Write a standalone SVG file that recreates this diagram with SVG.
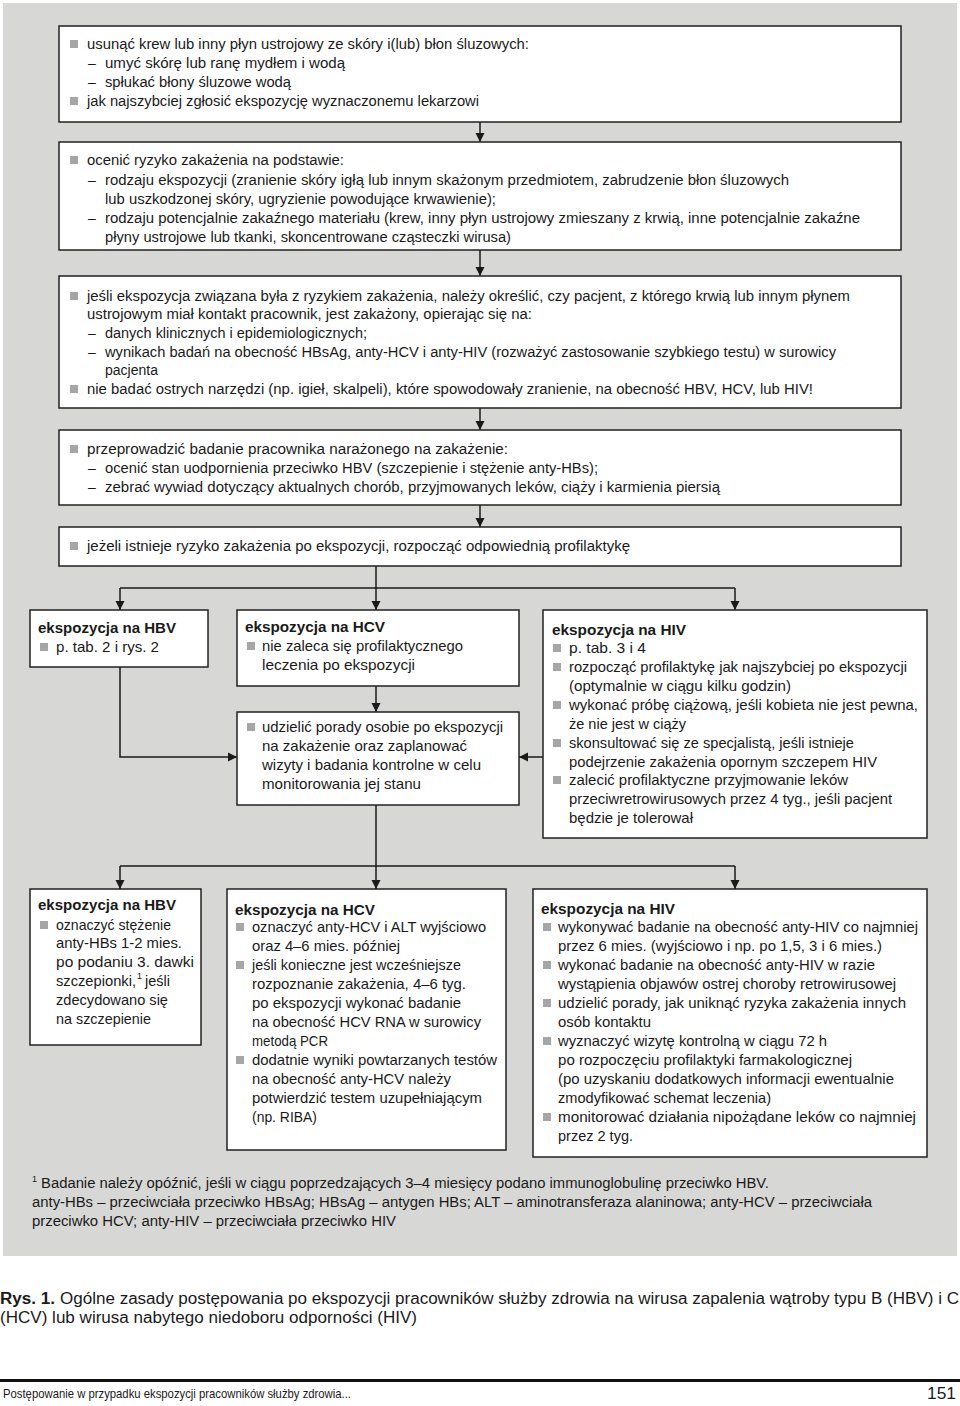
<svg xmlns="http://www.w3.org/2000/svg" width="960" height="1406" viewBox="0 0 960 1406">
<style>
.bg{fill:#d7d7d5}
.box{fill:#fff;stroke:#222;stroke-width:1.5}
.t{font-family:"Liberation Sans","Open Sans",Arial,sans-serif;font-size:14px;fill:#1a1a1a}
.l{font-family:"Liberation Sans","Open Sans",Arial,sans-serif;font-size:15px;fill:#1a1a1a}
.bd{font-weight:bold}
.bul{fill:#a6a6a6}
.c{fill:none;stroke:#1a1a1a;stroke-width:1.5}
</style>
<defs>
<marker id="a" viewBox="0 0 10 10" refX="10" refY="5" markerWidth="9" markerHeight="10" orient="auto" markerUnits="userSpaceOnUse">
<path d="M0,0 L10,5 L0,10 z" fill="#1a1a1a"/>
</marker>
</defs>
<rect class="bg" x="3" y="3" width="954" height="1253"/>

<g id="connectors">
<line class="c" x1="480" y1="122" x2="480" y2="142" marker-end="url(#a)"/>
<line class="c" x1="480" y1="250" x2="480" y2="276" marker-end="url(#a)"/>
<line class="c" x1="480" y1="408" x2="480" y2="430" marker-end="url(#a)"/>
<line class="c" x1="480" y1="505" x2="480" y2="527" marker-end="url(#a)"/>
<polyline class="c" points="376,566 376,588"/>
<polyline class="c" points="120,588 735,588"/>
<line class="c" x1="120" y1="588" x2="120" y2="610" marker-end="url(#a)"/>
<line class="c" x1="376" y1="588" x2="376" y2="610" marker-end="url(#a)"/>
<line class="c" x1="735" y1="588" x2="735" y2="610" marker-end="url(#a)"/>
<line class="c" x1="376" y1="686" x2="376" y2="712" marker-end="url(#a)"/>
<polyline class="c" points="120,667 120,757 237,757" marker-end="url(#a)"/>
<line class="c" x1="543" y1="757" x2="519" y2="757" marker-end="url(#a)"/>
<polyline class="c" points="376,805 376,866"/>
<polyline class="c" points="120,866 735,866"/>
<line class="c" x1="120" y1="866" x2="120" y2="889" marker-end="url(#a)"/>
<line class="c" x1="376" y1="866" x2="376" y2="889" marker-end="url(#a)"/>
<line class="c" x1="735" y1="866" x2="735" y2="889" marker-end="url(#a)"/>
</g>

<g id="box1">
<rect class="box" x="59" y="26" width="842" height="96"/>
<rect class="bul" x="70" y="40" width="8" height="8"/>
<text class="t" x="87" y="49" textLength="442" lengthAdjust="spacingAndGlyphs">usunąć krew lub inny płyn ustrojowy ze skóry i(lub) błon śluzowych:</text>
<text class="t" x="88" y="68">–</text>
<text class="t" x="105" y="68" textLength="240" lengthAdjust="spacingAndGlyphs">umyć skórę lub ranę mydłem i wodą</text>
<text class="t" x="88" y="87">–</text>
<text class="t" x="105" y="87" textLength="186" lengthAdjust="spacingAndGlyphs">spłukać błony śluzowe wodą</text>
<rect class="bul" x="70" y="97" width="8" height="8"/>
<text class="t" x="87" y="106" textLength="392" lengthAdjust="spacingAndGlyphs">jak najszybciej zgłosić ekspozycję wyznaczonemu lekarzowi</text>
</g>

<g id="box2">
<rect class="box" x="59" y="142" width="842" height="108"/>
<rect class="bul" x="70" y="156" width="8" height="8"/>
<text class="t" x="87" y="165" textLength="257" lengthAdjust="spacingAndGlyphs">ocenić ryzyko zakażenia na podstawie:</text>
<text class="t" x="88" y="185">–</text>
<text class="t" x="105" y="185" textLength="684" lengthAdjust="spacingAndGlyphs">rodzaju ekspozycji (zranienie skóry igłą lub innym skażonym przedmiotem, zabrudzenie błon śluzowych</text>
<text class="t" x="105" y="204" textLength="391" lengthAdjust="spacingAndGlyphs">lub uszkodzonej skóry, ugryzienie powodujące krwawienie);</text>
<text class="t" x="88" y="223">–</text>
<text class="t" x="105" y="223" textLength="755" lengthAdjust="spacingAndGlyphs">rodzaju potencjalnie zakaźnego materiału (krew, inny płyn ustrojowy zmieszany z krwią, inne potencjalnie zakaźne</text>
<text class="t" x="105" y="242" textLength="406" lengthAdjust="spacingAndGlyphs">płyny ustrojowe lub tkanki, skoncentrowane cząsteczki wirusa)</text>
</g>

<g id="box3">
<rect class="box" x="59" y="276" width="842" height="132"/>
<rect class="bul" x="70" y="292" width="8" height="8"/>
<text class="t" x="87" y="301" textLength="763" lengthAdjust="spacingAndGlyphs">jeśli ekspozycja związana była z ryzykiem zakażenia, należy określić, czy pacjent, z którego krwią lub innym płynem</text>
<text class="t" x="87" y="319" textLength="445" lengthAdjust="spacingAndGlyphs">ustrojowym miał kontakt pracownik, jest zakażony, opierając się na:</text>
<text class="t" x="88" y="338">–</text>
<text class="t" x="105" y="338" textLength="262" lengthAdjust="spacingAndGlyphs">danych klinicznych i epidemiologicznych;</text>
<text class="t" x="88" y="357">–</text>
<text class="t" x="105" y="357" textLength="731" lengthAdjust="spacingAndGlyphs">wynikach badań na obecność HBsAg, anty-HCV i anty-HIV (rozważyć zastosowanie szybkiego testu) w surowicy</text>
<text class="t" x="105" y="375" textLength="53" lengthAdjust="spacingAndGlyphs">pacjenta</text>
<rect class="bul" x="70" y="385" width="8" height="8"/>
<text class="t" x="87" y="394" textLength="726" lengthAdjust="spacingAndGlyphs">nie badać ostrych narzędzi (np. igieł, skalpeli), które spowodowały zranienie, na obecność HBV, HCV, lub HIV!</text>
</g>

<g id="box4">
<rect class="box" x="59" y="430" width="842" height="75"/>
<rect class="bul" x="70" y="445" width="8" height="8"/>
<text class="t" x="87" y="454" textLength="421" lengthAdjust="spacingAndGlyphs">przeprowadzić badanie pracownika narażonego na zakażenie:</text>
<text class="t" x="88" y="473">–</text>
<text class="t" x="105" y="473" textLength="493" lengthAdjust="spacingAndGlyphs">ocenić stan uodpornienia przeciwko HBV (szczepienie i stężenie anty-HBs);</text>
<text class="t" x="88" y="492">–</text>
<text class="t" x="105" y="492" textLength="615" lengthAdjust="spacingAndGlyphs">zebrać wywiad dotyczący aktualnych chorób, przyjmowanych leków, ciąży i karmienia piersią</text>
</g>

<g id="box5">
<rect class="box" x="59" y="527" width="842" height="39"/>
<rect class="bul" x="70" y="542" width="8" height="8"/>
<text class="t" x="87" y="551" textLength="543" lengthAdjust="spacingAndGlyphs">jeżeli istnieje ryzyko zakażenia po ekspozycji, rozpocząć odpowiednią profilaktykę</text>
</g>

<g id="hbv1">
<rect class="box" x="30" y="610" width="178" height="57"/>
<text class="l bd" x="38" y="633" textLength="138" lengthAdjust="spacingAndGlyphs">ekspozycja na HBV</text>
<rect class="bul" x="40" y="643" width="8" height="8"/>
<text class="l" x="56" y="652" textLength="103" lengthAdjust="spacingAndGlyphs">p. tab. 2 i rys. 2</text>
</g>

<g id="hcv1">
<rect class="box" x="237" y="610" width="282" height="76"/>
<text class="l bd" x="245" y="632" textLength="140" lengthAdjust="spacingAndGlyphs">ekspozycja na HCV</text>
<rect class="bul" x="247" y="642" width="8" height="8"/>
<text class="l" x="262" y="651" textLength="201" lengthAdjust="spacingAndGlyphs">nie zaleca się profilaktycznego</text>
<text class="l" x="262" y="670" textLength="153" lengthAdjust="spacingAndGlyphs">leczenia po ekspozycji</text>
</g>

<g id="advice">
<rect class="box" x="237" y="712" width="282" height="93"/>
<rect class="bul" x="247" y="723" width="8" height="8"/>
<text class="l" x="262" y="732" textLength="241" lengthAdjust="spacingAndGlyphs">udzielić porady osobie po ekspozycji</text>
<text class="l" x="262" y="751" textLength="205" lengthAdjust="spacingAndGlyphs">na zakażenie oraz zaplanować</text>
<text class="l" x="262" y="770" textLength="219" lengthAdjust="spacingAndGlyphs">wizyty i badania kontrolne w celu</text>
<text class="l" x="262" y="789" textLength="159" lengthAdjust="spacingAndGlyphs">monitorowania jej stanu</text>
</g>

<g id="hiv1">
<rect class="box" x="543" y="610" width="384" height="228"/>
<text class="l bd" x="552" y="635" textLength="134" lengthAdjust="spacingAndGlyphs">ekspozycja na HIV</text>
<rect class="bul" x="553" y="644" width="8" height="8"/>
<text class="l" x="569" y="653" textLength="77" lengthAdjust="spacingAndGlyphs">p. tab. 3 i 4</text>
<rect class="bul" x="553" y="663" width="8" height="8"/>
<text class="l" x="569" y="672" textLength="338" lengthAdjust="spacingAndGlyphs">rozpocząć profilaktykę jak najszybciej po ekspozycji</text>
<text class="l" x="569" y="691" textLength="222" lengthAdjust="spacingAndGlyphs">(optymalnie w ciągu kilku godzin)</text>
<rect class="bul" x="553" y="701" width="8" height="8"/>
<text class="l" x="569" y="710" textLength="349" lengthAdjust="spacingAndGlyphs">wykonać próbę ciążową, jeśli kobieta nie jest pewna,</text>
<text class="l" x="569" y="729" textLength="117" lengthAdjust="spacingAndGlyphs">że nie jest w ciąży</text>
<rect class="bul" x="553" y="739" width="8" height="8"/>
<text class="l" x="569" y="748" textLength="285" lengthAdjust="spacingAndGlyphs">skonsultować się ze specjalistą, jeśli istnieje</text>
<text class="l" x="569" y="767" textLength="308" lengthAdjust="spacingAndGlyphs">podejrzenie zakażenia opornym szczepem HIV</text>
<rect class="bul" x="553" y="776" width="8" height="8"/>
<text class="l" x="569" y="785" textLength="279" lengthAdjust="spacingAndGlyphs">zalecić profilaktyczne przyjmowanie leków</text>
<text class="l" x="569" y="804" textLength="323" lengthAdjust="spacingAndGlyphs">przeciwretrowirusowych przez 4 tyg., jeśli pacjent</text>
<text class="l" x="569" y="823" textLength="124" lengthAdjust="spacingAndGlyphs">będzie je tolerował</text>
</g>

<g id="hbv2">
<rect class="box" x="30" y="889" width="171" height="156"/>
<text class="l bd" x="38" y="910" textLength="138" lengthAdjust="spacingAndGlyphs">ekspozycja na HBV</text>
<rect class="bul" x="40" y="921" width="8" height="8"/>
<text class="l" x="56" y="930" textLength="115" lengthAdjust="spacingAndGlyphs">oznaczyć stężenie</text>
<text class="l" x="56" y="948" textLength="126" lengthAdjust="spacingAndGlyphs">anty-HBs 1-2 mies.</text>
<text class="l" x="56" y="967" textLength="138" lengthAdjust="spacingAndGlyphs">po podaniu 3. dawki</text>
<text class="l" x="56" y="986" textLength="80" lengthAdjust="spacingAndGlyphs">szczepionki,</text>
<text class="l" x="137" y="979" style="font-size:9px">1</text>
<text class="l" x="145" y="986" textLength="25" lengthAdjust="spacingAndGlyphs">jeśli</text>
<text class="l" x="56" y="1005" textLength="112" lengthAdjust="spacingAndGlyphs">zdecydowano się</text>
<text class="l" x="56" y="1024" textLength="95" lengthAdjust="spacingAndGlyphs">na szczepienie</text>
</g>

<g id="hcv2">
<rect class="box" x="227" y="889" width="279" height="261"/>
<text class="l bd" x="235" y="915" textLength="140" lengthAdjust="spacingAndGlyphs">ekspozycja na HCV</text>
<rect class="bul" x="236" y="923" width="8" height="8"/>
<text class="l" x="252" y="932" textLength="234" lengthAdjust="spacingAndGlyphs">oznaczyć anty-HCV i ALT wyjściowo</text>
<text class="l" x="252" y="951" textLength="148" lengthAdjust="spacingAndGlyphs">oraz 4–6 mies. później</text>
<rect class="bul" x="236" y="961" width="8" height="8"/>
<text class="l" x="252" y="970" textLength="209" lengthAdjust="spacingAndGlyphs">jeśli konieczne jest wcześniejsze</text>
<text class="l" x="252" y="989" textLength="214" lengthAdjust="spacingAndGlyphs">rozpoznanie zakażenia, 4–6 tyg.</text>
<text class="l" x="252" y="1008" textLength="209" lengthAdjust="spacingAndGlyphs">po ekspozycji wykonać badanie</text>
<text class="l" x="252" y="1027" textLength="229" lengthAdjust="spacingAndGlyphs">na obecność HCV RNA w surowicy</text>
<text class="l" x="252" y="1046" textLength="76" lengthAdjust="spacingAndGlyphs">metodą PCR</text>
<rect class="bul" x="236" y="1056" width="8" height="8"/>
<text class="l" x="252" y="1065" textLength="245" lengthAdjust="spacingAndGlyphs">dodatnie wyniki powtarzanych testów</text>
<text class="l" x="252" y="1084" textLength="199" lengthAdjust="spacingAndGlyphs">na obecność anty-HCV należy</text>
<text class="l" x="252" y="1103" textLength="230" lengthAdjust="spacingAndGlyphs">potwierdzić testem uzupełniającym</text>
<text class="l" x="252" y="1122" textLength="65" lengthAdjust="spacingAndGlyphs">(np. RIBA)</text>
</g>

<g id="hiv2">
<rect class="box" x="533" y="889" width="394" height="268"/>
<text class="l bd" x="541" y="914" textLength="134" lengthAdjust="spacingAndGlyphs">ekspozycja na HIV</text>
<rect class="bul" x="543" y="923" width="8" height="8"/>
<text class="l" x="558" y="932" textLength="360" lengthAdjust="spacingAndGlyphs">wykonywać badanie na obecność anty-HIV co najmniej</text>
<text class="l" x="558" y="951" textLength="324" lengthAdjust="spacingAndGlyphs">przez 6 mies. (wyjściowo i np. po 1,5, 3 i 6 mies.)</text>
<rect class="bul" x="543" y="961" width="8" height="8"/>
<text class="l" x="558" y="970" textLength="317" lengthAdjust="spacingAndGlyphs">wykonać badanie na obecność anty-HIV w razie</text>
<text class="l" x="558" y="989" textLength="338" lengthAdjust="spacingAndGlyphs">wystąpienia objawów ostrej choroby retrowirusowej</text>
<rect class="bul" x="543" y="999" width="8" height="8"/>
<text class="l" x="558" y="1008" textLength="348" lengthAdjust="spacingAndGlyphs">udzielić porady, jak uniknąć ryzyka zakażenia innych</text>
<text class="l" x="558" y="1027" textLength="93" lengthAdjust="spacingAndGlyphs">osób kontaktu</text>
<rect class="bul" x="543" y="1037" width="8" height="8"/>
<text class="l" x="558" y="1046" textLength="269" lengthAdjust="spacingAndGlyphs">wyznaczyć wizytę kontrolną w ciągu 72 h</text>
<text class="l" x="558" y="1065" textLength="294" lengthAdjust="spacingAndGlyphs">po rozpoczęciu profilaktyki farmakologicznej</text>
<text class="l" x="558" y="1084" textLength="336" lengthAdjust="spacingAndGlyphs">(po uzyskaniu dodatkowych informacji ewentualnie</text>
<text class="l" x="558" y="1103" textLength="213" lengthAdjust="spacingAndGlyphs">zmodyfikować schemat leczenia)</text>
<rect class="bul" x="543" y="1113" width="8" height="8"/>
<text class="l" x="558" y="1122" textLength="358" lengthAdjust="spacingAndGlyphs">monitorować działania nipożądane leków co najmniej</text>
<text class="l" x="558" y="1141" textLength="75" lengthAdjust="spacingAndGlyphs">przez 2 tyg.</text>
</g>

<g id="footnotes">
<text class="t" x="32" y="1182" style="font-size:9px">1</text>
<text class="t" x="41" y="1188" textLength="728" lengthAdjust="spacingAndGlyphs">Badanie należy opóźnić, jeśli w ciągu poprzedzających 3–4 miesięcy podano immunoglobulinę przeciwko HBV.</text>
<text class="t" x="32" y="1207" textLength="840" lengthAdjust="spacingAndGlyphs">anty-HBs – przeciwciała przeciwko HBsAg; HBsAg – antygen HBs; ALT – aminotransferaza alaninowa; anty-HCV – przeciwciała</text>
<text class="t" x="32" y="1226" textLength="364" lengthAdjust="spacingAndGlyphs">przeciwko HCV; anty-HIV – przeciwciała przeciwko HIV</text>
</g>

<g id="caption">
<text class="t bd" x="0" y="1304" style="font-size:16px" textLength="55" lengthAdjust="spacingAndGlyphs">Rys. 1.</text>
<text class="t" x="60" y="1304" style="font-size:16px" textLength="899" lengthAdjust="spacingAndGlyphs">Ogólne zasady postępowania po ekspozycji pracowników służby zdrowia na wirusa zapalenia wątroby typu B (HBV) i C</text>
<text class="t" x="0" y="1323" style="font-size:16px" textLength="417" lengthAdjust="spacingAndGlyphs">(HCV) lub wirusa nabytego niedoboru odporności (HIV)</text>
</g>

<g id="footer">
<rect x="0" y="1379" width="960" height="3" fill="#111"/>
<text class="t" x="3" y="1398" style="font-size:13px" textLength="348" lengthAdjust="spacingAndGlyphs">Postępowanie w przypadku ekspozycji pracowników służby zdrowia...</text>
<text class="t" x="927" y="1399" style="font-size:16px" textLength="29" lengthAdjust="spacingAndGlyphs">151</text>
</g>
</svg>
